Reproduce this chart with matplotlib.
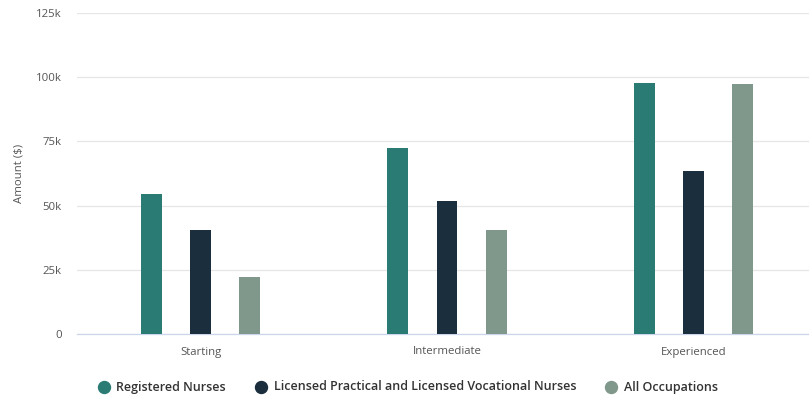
import matplotlib
matplotlib.use("Agg")
import matplotlib.pyplot as plt
from matplotlib.lines import Line2D
import numpy as np

plt.rcParams['font.family'] = ['Open Sans', 'DejaVu Sans']

categories = ["Starting", "Intermediate", "Experienced"]
series_names = ["Registered Nurses",
                "Licensed Practical and Licensed Vocational Nurses",
                "All Occupations"]
registered_nurses = [54500, 72400, 97700]
lpn_lvn = [40500, 51800, 63500]
all_occupations = [22200, 40500, 97400]
y_ticks = [0, 25000, 50000, 75000, 100000, 125000]
y_tick_labels = ["0", "25k", "50k", "75k", "100k", "125k"]

colors = ["#2a7b73", "#1a2e3d", "#80978b"]
series = [registered_nurses, lpn_lvn, all_occupations]

W, H = 809, 396
fig = plt.figure(figsize=(W / 100, H / 100), dpi=100)
# plot area runs slightly past the right edge of the canvas
ax = fig.add_axes([77.25 / W, 62 / H, 739.5 / W, 321 / H])

x = np.arange(len(categories))
offsets = [-0.199, 0.0, 0.199]
width = 0.085
for vals, off, c in zip(series, offsets, colors):
    ax.bar(x + off, vals, width=width, color=c, zorder=3)

ax.set_xlim(-0.5, 2.5)
ax.set_ylim(0, 125000)
ax.set_yticks(y_ticks)
ax.set_yticklabels(y_tick_labels)
ax.set_xticks(x)
ax.set_xticklabels(categories)
ax.grid(axis='y', color='#e6e6e6', linewidth=0.9, zorder=0)
ax.tick_params(axis='both', length=0, labelsize=8.2, colors='#555555')
ax.tick_params(axis='x', pad=9)
ax.tick_params(axis='y', pad=11)
for s in ['top', 'right', 'left']:
    ax.spines[s].set_visible(False)
ax.spines['bottom'].set_color('#ccd6eb')
ax.spines['bottom'].set_linewidth(0.9)
ax.set_ylabel("Amount ($)", fontsize=8.2, color='#555555', labelpad=8)

# legend row below the plot: circle marker followed by its label
legend_marker_x = [103.5, 261, 611]
legend_y = 9
for name, c, mx in zip(series_names, colors, legend_marker_x):
    fig.add_artist(Line2D([mx / W], [legend_y / H], marker='o', linestyle='',
                          markersize=8.6, markerfacecolor=c, markeredgecolor=c,
                          transform=fig.transFigure))
    fig.text((mx + 13) / W, legend_y / H, name, ha='left', va='center',
             fontsize=9.0, fontweight='semibold', color='#333333')

fig.savefig("out.png", dpi=100)
